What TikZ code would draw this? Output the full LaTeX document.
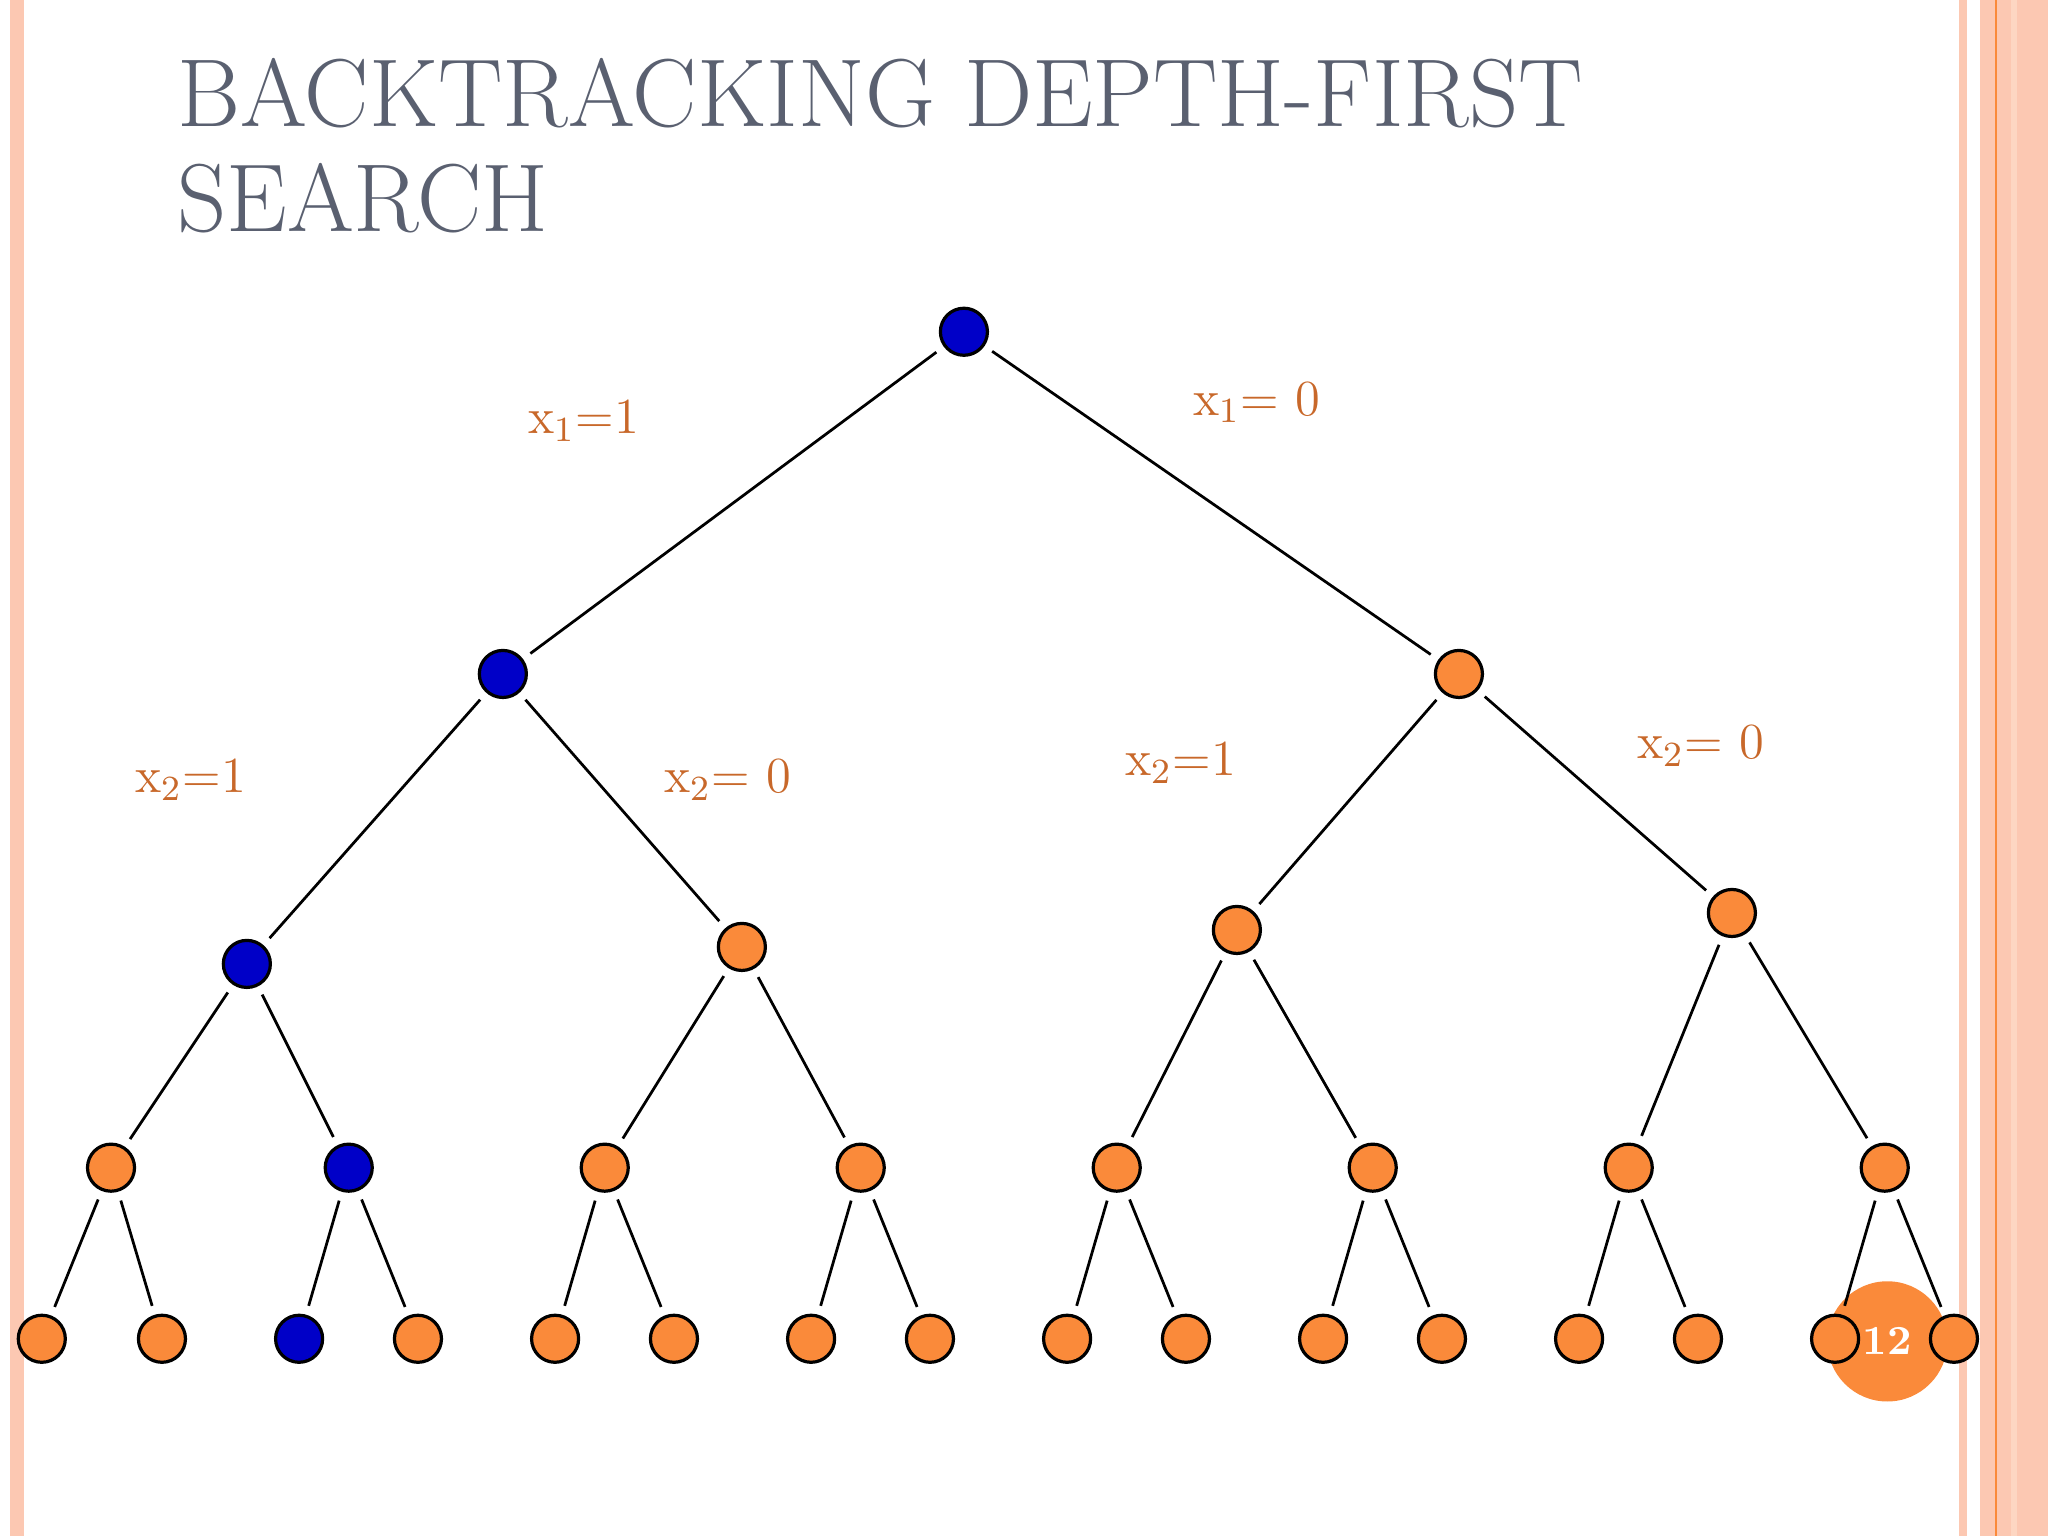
\documentclass[tikz,border=0pt]{standalone}
\usepackage{amsmath}
\usepackage{xcolor}
\definecolor{peach}{HTML}{FCC8B2}
\definecolor{nodeor}{HTML}{FA8A3A}
\definecolor{nodebl}{HTML}{0000C8}
\definecolor{lblor}{HTML}{C8682A}
\definecolor{titlegr}{HTML}{5A6070}
\tikzset{
  on/.style={fill=nodeor,draw=black,circle,minimum size=0.36cm,inner sep=0pt,line width=0.7pt},
  bn/.style={on,fill=nodebl},
  edge/.style={black,line width=0.6pt,shorten <=2pt,shorten >=2pt},
  lbl/.style={text=lblor,font=\fontsize{11}{13}\selectfont}
}
\begin{document}
\begin{tikzpicture}[x=0.01cm,y=-0.01cm]
     \useasboundingbox (0,0) rectangle (1568,1176);
     %frame stripes
     \fill[peach] (8,0) rectangle (18,1176);
     \fill[peach] (1500,0) rectangle (1506,1176);
     \fill[peach] (1516,0) rectangle (1568,1176);
     \draw[nodeor,line width=0.5pt] (1528,0) -- (1528,1176);
     \fill[peach!80!nodeor!60] (1540,0) rectangle (1544,1176);

     %title
     \node[anchor=base west,text=titlegr,font=\fontsize{21}{25}\selectfont,inner sep=0pt] (t1) at (135,97) {BACKTRACKING DEPTH-FIRST};
     \node[anchor=base west,text=titlegr,font=\fontsize{21}{25}\selectfont,inner sep=0pt] (t2) at (135,177) {SEARCH};

     %page number
     \node[fill=nodeor,circle,minimum size=0.92cm,text=white,font=\bfseries\fontsize{9}{11}\selectfont] (pg) at (1445,1027) {12};

     %tree
     \node[bn] (r) at (738,254) {};
     \node[bn] (a) at (385,516) {};
     \node[on] (b) at (1117,516) {};
     \node[bn] (aa) at (189,738) {};
     \node[on] (ab) at (568,725) {};
     \node[on] (ba) at (947,712) {};
     \node[on] (bb) at (1326,699) {};
     \foreach \n/\x/\s in {1/85/on,2/267/bn,3/463/on,4/659/on,5/855/on,6/1051/on,7/1247/on,8/1443/on}
        \node[\s] (c\n) at (\x,894) {};
     \foreach \n/\x/\s in {1/32/on,2/124/on,3/229/bn,4/320/on,5/425/on,6/516/on,7/621/on,8/712/on,
                           9/817/on,10/908/on,11/1013/on,12/1104/on,13/1209/on,14/1300/on,15/1405/on,16/1496/on}
        \node[\s] (d\n) at (\x,1025) {};

     \draw[edge] (r)--(a);
     \draw[edge] (r)--(b);
     \draw[edge] (a)--(aa);
     \draw[edge] (a)--(ab);
     \draw[edge] (b)--(ba);
     \draw[edge] (b)--(bb);
     \draw[edge] (aa)--(c1); \draw[edge] (aa)--(c2);
     \draw[edge] (ab)--(c3); \draw[edge] (ab)--(c4);
     \draw[edge] (ba)--(c5); \draw[edge] (ba)--(c6);
     \draw[edge] (bb)--(c7); \draw[edge] (bb)--(c8);
     \foreach \i [evaluate=\i as \l using int(2*\i-1), evaluate=\i as \m using int(2*\i)] in {1,...,8} {
        \draw[edge] (c\i)--(d\l);
        \draw[edge] (c\i)--(d\m);
     }

     %labels
     \node[lbl] (l1) at (447,322) {x\textsubscript{1}=1};
     \node[lbl] (l2) at (962,308) {x\textsubscript{1}= 0};
     \node[lbl] (l3) at (146,597) {x\textsubscript{2}=1};
     \node[lbl] (l4) at (557,597) {x\textsubscript{2}= 0};
     \node[lbl] (l5) at (904,584) {x\textsubscript{2}=1};
     \node[lbl] (l6) at (1302,571) {x\textsubscript{2}= 0};

    \end{tikzpicture}
\end{document}
